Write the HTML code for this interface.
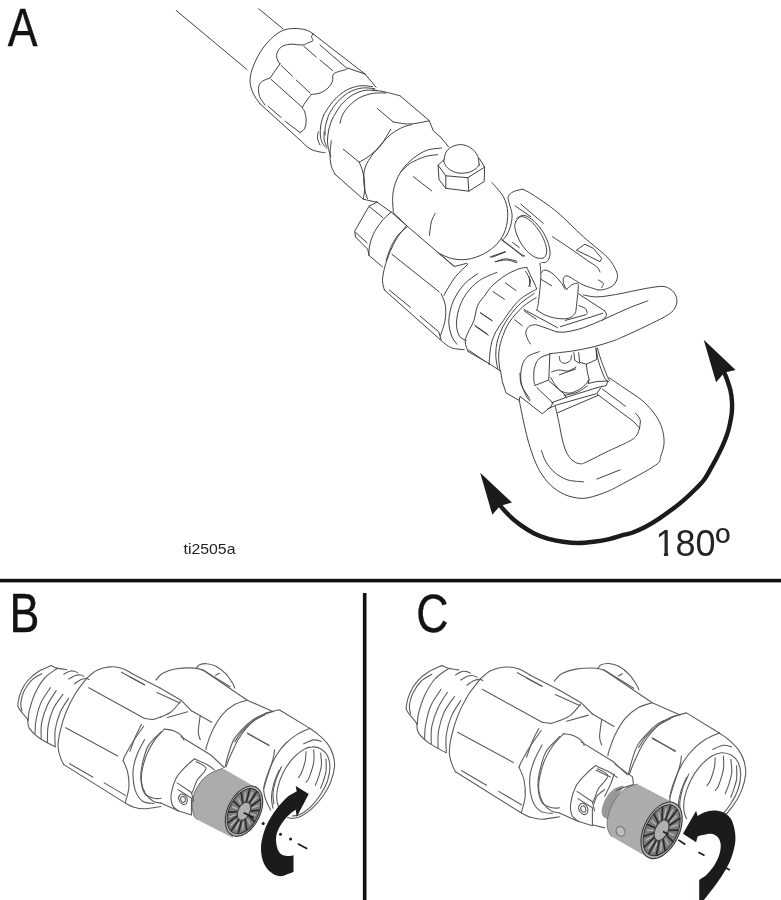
<!DOCTYPE html>
<html lang="en">
<head>
<meta charset="utf-8">
<title>Tip guard rotation</title>
<style>
html,body{margin:0;padding:0;background:#fff;}
body{width:781px;height:900px;overflow:hidden;font-family:"Liberation Sans",sans-serif;}
svg{display:block;}
</style>
</head>
<body>
<svg width="781" height="900" viewBox="0 0 781 900">
<rect width="781" height="900" fill="#fff"/>
<path d="M222.6 768.3 C220.7 769.1 214.4 771.2 210.9 773.2 C207.5 775.2 204.7 777.2 202 780.3 C199.3 783.5 196.5 787.9 194.8 792 C193.2 796 192.3 800.6 192.1 804.5 C192 808.4 193 812.7 193.9 815.3 C194.8 817.8 196.9 819 197.5 819.8 L232.5 837.7 L257.5 788.4 Z" fill="#acacac"/>
<path d="M623.8 786.3 C623.5 784.8 618.6 786.6 616.1 787.8 C613.7 789 611.1 791.2 609.1 793.6 C607.1 795.9 605.2 799.1 604 801.9 C602.7 804.7 601.9 807.9 601.7 810.2 C601.4 812.6 601.7 814.5 602.7 816 C603.7 817.5 606.1 818.5 607.8 819.2 C609.5 819.8 611.2 823.5 612.9 819.8 C614.6 816.1 616.2 802.4 618 796.8 C619.9 791.2 624.1 787.8 623.8 786.3Z" fill="#999"/>
<path d="M637.3 784 C635.5 784.6 630.2 785.9 627 787.8 C623.8 789.7 620.6 792.5 618 795.5 C615.5 798.5 613.4 802.1 611.6 805.7 C609.9 809.4 608.6 813.8 607.8 817.3 C607.1 820.7 607 823.7 607.2 826.2 C607.4 828.8 608.3 830.9 609.1 832.6 C609.8 834.3 611.2 835.8 611.6 836.5 L651.3 859.5 L676.9 804.4 Z" fill="#acacac"/>
<g fill="none" stroke="#383838" stroke-width="0.95" stroke-linecap="round" stroke-linejoin="round">
<path d="M176.2 10.5 L247 69.5"/>
<path d="M258.8 8.8 L283 28.8"/>
<path d="M325 152.5 C324.2 152.4 322.5 152.6 320 152 C317.5 151.4 313.3 150.8 310 148.8 C306.7 146.8 301.7 141.5 300 140"/>
<path d="M300 140 L260 103.8"/>
<path d="M260 103.8 C258.8 102 254.7 97 253 93 C251.3 89 249.9 84.7 250 80 C250.1 75.3 251.7 70.2 253.8 65 C255.8 59.8 259.2 53.5 262.5 48.8 C265.8 44 270.1 39.4 273.8 36.2 C277.4 33.1 280.7 31.3 284.2 30 C287.8 28.7 291.3 28.5 295 28.5 C298.7 28.5 303.2 29.1 306.2 30 C309.2 30.9 311.9 33.1 313 33.8"/>
<path d="M313 33.8 L365 74 L376 87.2"/>
<path d="M313 33.8 C312.8 34.3 311.5 35.9 311.5 37 C311.5 38.1 313.7 39.5 313 40.5 C312.3 41.5 309.2 42.2 307.5 43 C305.8 43.8 305.4 44.8 302.5 45 C299.6 45.2 293.5 43.9 290 44.2 C286.5 44.6 283.5 45.4 281.2 47 C279 48.6 277.4 51.6 276.8 53.8 C276.1 55.9 277 58.3 277.5 60 C278 61.7 279.6 63.1 280 63.8"/>
<path d="M280 63.8 L270 78"/>
<path d="M270 78 C268.8 78.5 264.4 79.9 262.5 81.2 C260.6 82.6 259.2 83.8 258.8 86.2 C258.2 88.8 258.5 93.1 259.5 96.2 C260.5 99.4 264.1 103.5 265 105"/>
<path d="M268 106.2 L281.2 117.5"/>
<path d="M285 121.2 L300 132.5"/>
<path d="M300 132.5 C300.8 131.9 303.5 130.8 304.5 128.8 C305.5 126.7 306.2 122.9 306.2 120 C306.2 117.1 305.1 113.3 304.5 111.2 C303.9 109.2 302.2 109.2 302.5 107.5 C302.8 105.8 304.8 103.4 306.2 101.2 C307.7 99.1 310.4 95.6 311.2 94.5"/>
<path d="M271.2 79.5 L302.5 107.5"/>
<path d="M281.2 65.5 L292.5 76.2"/>
<path d="M296.2 80 L310 93"/>
<path d="M311.2 94.5 C312.7 94.2 317.2 94.1 320 93 C322.8 91.9 325.9 90 328 88 C330.1 86 331.5 83.6 332.5 81.2 C333.5 78.9 331.5 75.7 333.8 73.8 C336 71.8 344.2 70.2 346.2 69.5"/>
<path d="M303.8 46.2 L316.2 57"/>
<path d="M320 60 L332.5 70.5"/>
<path d="M320 45 L347.5 68.8"/>
<path d="M372.5 86.7 C370.4 86.5 364.3 85.3 360 85.8 C355.7 86.4 350.8 87.8 346.7 90 C342.5 92.2 338.3 95.8 335 99.2 C331.7 102.5 328.6 107.2 326.7 110 C324.7 112.8 323.9 114.9 323.3 115.8"/>
<path d="M374.7 88.7 C372.6 88.6 366.3 87.4 362 88 C357.7 88.6 352.7 90.2 348.7 92.5 C344.6 94.8 340.8 98.3 337.7 101.7 C334.6 105 331.7 109.7 330 112.5 C328.3 115.3 327.9 117.6 327.5 118.7"/>
<path d="M376.7 90.8 C374.7 90.8 369 89.6 365 90.3 C361 91 356.4 92.7 352.5 95 C348.6 97.3 344.6 101 341.7 104.2 C338.8 107.4 336.7 111.5 335 114.2 C333.3 116.9 332.2 119.3 331.7 120.3"/>
<path d="M385.8 93 C383.8 93.1 377.6 92.6 373.3 93.3 C369 94.1 364 95.4 360 97.5 C356 99.6 352.1 102.9 349.2 105.8 C346.2 108.8 344 112.1 342.5 115 C341 117.9 340.4 121.9 340 123.3"/>
<path d="M323.3 115.8 C322.9 117.4 321.3 121.8 320.8 125 C320.3 128.2 320.1 131.9 320.3 135 C320.6 138.1 321.4 141.1 322.5 143.3 C323.6 145.6 326 147.5 326.7 148.3"/>
<path d="M318.3 131.7 C318.2 132.8 317.2 136.1 317.5 138.3 C317.8 140.6 319.6 143.9 320 145"/>
<path d="M324.2 131.7 C324.2 133.1 323.8 137.6 324.2 140 C324.6 142.4 326.2 145.3 326.7 146.3"/>
<path d="M327.5 118.7 C327.1 120 325.8 123.9 325.3 126.7 C324.9 129.4 325.1 133.6 325 135"/>
<path d="M331.7 120.3 C331.2 121.9 329.4 126.7 328.7 130 C328 133.3 327.6 136.9 327.5 140 C327.4 143.1 327.8 145.6 328.3 148.3 C328.9 151.1 330.4 155.3 330.8 156.7"/>
<path d="M372.5 89.7 C374.7 90.1 381.2 91.1 385.8 92.2 C390.4 93.2 397.6 95.2 400 95.8"/>
<path d="M400 95.8 L429.2 120.5 L433.3 130.8 L440.2 136.7"/>
<path d="M377.5 108.7 L393.3 122"/>
<path d="M393.3 122 C396.1 122.3 404 124.2 410 124 C416 123.8 426 121.4 429.2 120.8"/>
<path d="M411.7 124.7 C410.3 125.1 406.7 125.5 403.3 127 C400 128.5 395.3 130.9 391.7 133.7 C388.1 136.4 384.9 140.1 381.7 143.7 C378.4 147.3 374.6 151.6 372 155.3 C369.4 159 367.2 162.3 365.8 165.8 C364.4 169.4 363.9 172.8 363.7 176.7 C363.5 180.6 364 185.5 364.7 189.2 C365.3 192.8 367 197.1 367.5 198.7"/>
<path d="M390.8 129.2 C389.3 131.7 384.1 140.6 381.7 144.2 C379.2 147.7 377.2 149.3 376.3 150.3"/>
<path d="M343.3 149.2 L359.2 162.2"/>
<path d="M359.2 162.2 C360.7 161.3 365.4 158.8 368.3 156.7 C371.2 154.6 375.3 150.8 376.7 149.7"/>
<path d="M359.2 162.2 C359.6 163.3 361.2 166.5 362 169.2 C362.8 171.9 363.7 175 364.2 178.3 C364.6 181.7 364.8 185.7 364.7 189.2 C364.5 192.6 363.6 197.5 363.3 199.2"/>
<path d="M331.3 140.8 C331.1 142.9 330.1 149.3 330 153.3 C329.9 157.4 330.2 161.5 331 165 C331.8 168.5 334.3 172.6 335 174.2"/>
<path d="M335 174.2 L363.3 199.2 L374.2 201.7 L377 202"/>
<path d="M441.7 148 C439.2 148.4 431.4 148.6 426.7 150.3 C421.9 152.1 417.4 155.1 413.3 158.3 C409.2 161.6 405 165.8 402 170 C399 174.2 396.9 178.9 395.3 183.3 C393.8 187.8 393 191.9 392.7 196.7 C392.3 201.4 393.2 209.2 393.3 211.7"/>
<path d="M437.5 154.7 C435.4 155 429.5 155.2 425 156.7 C420.5 158.1 414.4 160.8 410.3 163.3 C406.3 165.9 402.4 170.6 400.8 172"/>
<path d="M413.3 176.7 L431.7 190.8"/>
<path d="M440.2 136.7 L448.7 146.9"/>
<path d="M491.9 182.5 C493.8 184.9 500.8 192 503.5 196.9 C506.1 201.9 507.4 206.9 507.7 212.3 C508 217.8 507.1 224.5 505.4 229.6 C503.7 234.7 501.2 239.1 497.7 243.1 C494.2 247.1 489.4 250.9 484.2 253.7 C479.1 256.4 472.4 258.6 466.9 259.4 C461.5 260.2 456 259.4 451.5 258.5 C447.1 257.5 441.9 254.5 440 253.7"/>
<path d="M392.9 212.3 L407.3 226.2"/>
<path d="M438.1 252.7 L454.4 266.5 L466.9 263.3"/>
<path d="M435.2 213.3 C434.6 214.7 432.3 218.2 431.3 221.9 C430.4 225.6 429.7 233.1 429.4 235.4"/>
<path d="M443.8 161.3 C444.2 159.9 444.5 155.1 445.8 152.7 C447.1 150.3 449 148.3 451.5 146.9 C454.1 145.6 457.9 144.5 461.2 144.6 C464.4 144.8 468 146.1 470.8 147.9 C473.5 149.7 476.1 152.7 477.5 155.6 C478.9 158.5 478.9 163.6 479.2 165.2"/>
<path d="M443.8 161.3 C444.5 162.5 445.4 166.2 447.7 168.1 C449.9 170 453.8 172.2 457.3 172.9 C460.8 173.6 465.6 173.1 468.8 172.3 C472.1 171.5 474.8 169.4 476.5 168.1 C478.3 166.7 478.9 164.9 479.4 164.2"/>
<path d="M444.2 159.4 L438.1 165.2 L439 179.6 L445.8 188.3 L468.8 191.2 L484.2 181.5 L484.6 167.1 L479.4 158.5"/>
<path d="M438.1 165.2 L445.8 175.8 L467.9 177.7 L484.6 167.1"/>
<path d="M445.8 175.8 L445.8 188.3"/>
<path d="M467.9 177.7 L468.8 191.2"/>
<path d="M407.3 226.7 C405.7 228.2 400.4 232 397.7 235.4 C395 238.8 392.9 242.8 391 246.9 C389 251.1 387 258.1 386.2 260.4"/>
<path d="M376.9 202.1 L369 206.3 L354.6 231.3 L355.6 237.1 L367.7 249.2 L369 255.4 L382.5 266.9"/>
<path d="M376.9 202.1 L391.2 212.1 L406.5 225.6 L454.4 266.5"/>
<path d="M369 206.3 L382.5 217.3"/>
<path d="M355.6 232.3 L367.1 242.9"/>
<path d="M391.2 212.1 C389.9 213.3 386.2 216 383.5 219.2 C380.7 222.4 377.1 227.2 374.8 231.3 C372.6 235.4 371 239.8 370 243.8 C369 247.9 369 253.5 368.8 255.4"/>
<path d="M406.5 225.6 C404.9 227.7 399.6 233.8 396.9 238.1 C394.2 242.4 392.2 246.7 390.2 251.5 C388.2 256.3 386.1 262.1 384.8 266.9 C383.5 271.7 382.6 276.5 382.5 280.4 C382.4 284.2 384.1 288.4 384.4 290"/>
<path d="M384.4 290 L439.2 338.7"/>
<path d="M439.2 338.7 C440.2 339.5 442.8 342.2 445 343.8 C447.2 345.4 449.5 347.3 452.7 348.3 C455.9 349.2 462.3 349.4 464.2 349.6"/>
<path d="M392.1 254.4 L439.2 291.9"/>
<path d="M389.2 290 L410.4 307.3"/>
<path d="M420 316 L438.8 331.9 L441.2 340"/>
<path d="M441.2 293.8 C441.9 295.8 444.7 300.9 445.4 305.4 C446 309.9 445.9 315.6 445 320.8 C444.1 325.9 441 333.6 440.2 336.2"/>
<path d="M468.1 264 C466 266.1 459.1 272.2 455.6 276.5 C452.1 280.9 448.8 286.9 446.9 290 C445 293.1 444.5 294.5 444 295.4"/>
<path d="M477.7 273.7 C475.4 275.4 468.3 279.6 464.2 284.2 C460.1 288.9 455.6 295.4 453.1 301.5 C450.5 307.6 449.1 315 448.8 320.8 C448.6 326.5 450.4 332.2 451.7 336.2 C453.1 340.1 456.1 342.9 456.9 344.2"/>
<path d="M496.9 272.3 C494 273.7 484.7 276.8 479.6 280.4 C474.5 284 469.6 289 466.2 293.8 C462.7 298.7 460.4 304.1 458.8 309.2 C457.2 314.4 456.4 320.1 456.5 324.6 C456.6 329.1 457.8 333.5 459.4 336.2 C461 338.8 465 339.7 466.2 340.4"/>
<path d="M485.4 294.8 C484.1 296.6 479.6 301.1 477.7 305.4 C475.8 309.7 475.4 316.3 473.8 320.8 C472.2 325.3 469.5 328.8 468.1 332.3 C466.6 335.8 465.2 338.7 465.2 341.9 C465.2 345.1 467.6 349.9 468.1 351.5"/>
<path d="M468.1 351.5 L488.3 363.1"/>
<path d="M480.6 313.1 L492.1 320.8"/>
<path d="M475.8 326.5 L488.3 335.2"/>
<path d="M488.3 363.1 L499.6 370.4"/>
<path d="M485.4 294.8 C486.2 293.6 488.3 290 490.4 287.7 C492.4 285.4 494.9 283.2 497.7 281 C500.5 278.7 503.8 276.2 507.3 274.2 C510.8 272.2 515.6 270 518.8 268.8 C522.1 267.7 525.6 267.7 526.9 267.5"/>
<path d="M526.9 267.5 C527.5 268.8 529.2 272.6 530.4 275.2 C531.6 277.8 533.2 280.6 534.2 282.9 C535.3 285.1 536.2 287.7 536.5 288.7"/>
<path d="M536.5 289.2 C534.2 290.6 526.6 294.4 522.7 297.3 C518.8 300.3 516.3 303.1 513.1 306.9 C509.9 310.8 506.3 316.2 503.5 320.4 C500.6 324.6 497.9 327.8 495.8 331.9 C493.7 336.1 492.1 339.9 491 345.4 C489.8 350.8 489.4 361.4 489 364.6"/>
<path d="M534.2 293.5 C531.7 295.4 523.7 300.2 518.8 305 C514 309.8 508.9 316.5 505.4 322.3 C501.9 328.1 499.3 334.2 497.7 339.6 C496.1 345.1 495.8 350.1 495.8 355 C495.8 359.9 497.4 366.5 497.7 368.8"/>
<path d="M536.2 297.7 C533.9 299.2 527.2 302.8 522.7 306.9 C518.2 311 512.8 316.9 509.2 322.3 C505.7 327.8 503.3 334.2 501.5 339.6 C499.8 345.1 498.9 349.8 498.7 355 C498.4 360.2 499.8 368.1 500 370.8"/>
<path d="M505.4 282.9 L516 290.6"/>
<path d="M492.9 291.5 L504.4 299.2"/>
<path d="M480.4 312.7 L491.9 320.4"/>
<path d="M474.6 325.2 L487.1 333.8"/>
<path d="M468.8 350.2 L484.2 360.8"/>
<path d="M525.6 271.3 C526.4 272.9 529.8 277.9 530.4 280.4 C530.9 282.9 529.1 285.2 528.8 286.2"/>
<path d="M495.8 261.7 C497.4 261.2 501.9 258.9 505.4 258.8 C508.9 258.8 515 260.8 516.9 261.2"/>
<path d="M491.9 257.3 L505.4 252.1"/>
<path d="M501.9 239.6 L520.8 254 L524.6 256"/>
<path d="M502.5 240 C503.2 239.2 505.3 237.5 506.7 235 C508.1 232.5 509.9 228.5 510.8 225 C511.7 221.5 512.3 217.8 512 214.2 C511.7 210.6 509.8 206.2 509.2 203.3 C508.6 200.4 507.6 198.6 508.3 196.7 C509 194.7 511 192.9 513.3 191.7 C515.7 190.4 521 189.6 522.5 189.2"/>
<path d="M522.5 189.2 C524.3 190.1 527.6 191.2 533.3 195 C539 198.8 548.3 204.7 556.7 211.7 C565 218.6 575 229.2 583.3 236.7 C591.7 244.2 601.4 251.4 606.7 256.7 C611.9 261.9 613.2 265 615 268.3 C616.8 271.7 617.7 273.9 617.5 276.7 C617.3 279.4 615.7 282.9 613.7 285 C611.6 287.1 607.9 288.3 605.3 289.2 C602.8 290 599.5 289.9 598.3 290"/>
<path d="M598.3 290 C595.8 289.2 587.5 286.8 583.3 285 C579.2 283.2 576.1 280.7 573.3 279.2 C570.6 277.6 568.7 276 567 275.8 C565.3 275.7 563.8 276.8 563.3 278.3 C562.9 279.9 563.6 283.2 564.2 285 C564.7 286.8 566.2 288.5 566.7 289.2"/>
<path d="M520.8 204.2 L543.3 223.3"/>
<path d="M515 205.8 L530.8 216.7"/>
<path d="M516.7 218.3 C517.8 217.8 520.8 215.2 523.3 215.3 C525.8 215.5 528.6 216.7 531.7 219.2 C534.7 221.6 538.9 226 541.7 230 C544.4 234 546.9 239.2 548.3 243.3 C549.7 247.5 550.3 251.9 550 255 C549.7 258.1 548.1 260.4 546.7 261.7 C545.3 262.9 542.5 262.4 541.7 262.5"/>
<path d="M515.8 221.7 C514.9 223.6 514.4 225.3 515 228.3 C515.6 231.4 517.2 236.2 519.2 240 C521.1 243.8 523.9 247.9 526.7 250.8 C529.4 253.7 532.9 256.4 535.8 257.5 C538.8 258.6 542.4 258.8 544.2 257.5 C546 256.2 546.8 253.2 546.7 250 C546.5 246.8 545 242.1 543.3 238.3 C541.7 234.6 539.2 230.7 536.7 227.5 C534.2 224.3 531 221 528.3 219.2 C525.7 217.4 522.9 216.2 520.8 216.7 C518.8 217.1 516.8 219.7 515.8 221.7Z"/>
<path d="M552.5 236.7 C555.4 238.6 564.3 244.4 570 248.3 C575.7 252.2 582.2 256.9 586.7 260 C591.1 263.1 594.4 264.7 596.7 266.7 C598.9 268.7 599.4 271.1 600 272"/>
<path d="M576.7 250 L585 244.2 L593.3 248.3 L601.7 258.3 L600 261.7 L590 256.7Z"/>
<path d="M598.3 280 C599.2 280.6 602.8 282.1 603.3 283.3 C603.9 284.6 601.9 286.8 601.7 287.5"/>
<path d="M501.7 240 L511.7 247.5 L523.3 256.7"/>
<path d="M512.5 242.5 L519.2 247.5"/>
<path d="M490 257 L505 251.7"/>
<path d="M495 261.7 C496.9 261.4 503.1 259.8 506.7 260 C510.3 260.2 515 262.2 516.7 262.7"/>
<path d="M540 263.3 C540.1 265.6 541.1 270 540.8 276.7 C540.6 283.3 539 297.8 538.3 303.3 C537.6 308.9 536.9 308.9 536.7 310"/>
<path d="M536.7 310 C538.1 310.8 541.7 313.6 545 315 C548.3 316.4 552.8 317.8 556.7 318.3 C560.6 318.9 565.3 319.2 568.3 318.3 C571.4 317.5 573.6 315.8 575 313.3 C576.4 310.8 576.1 307.8 576.7 303.3 C577.2 298.9 578.3 290 578.3 286.7 C578.3 283.3 577.8 283.6 576.7 283.3 C575.6 283.1 573.3 284 571.7 285 C570 286 567.5 288.5 566.7 289.2"/>
<path d="M540.8 273.3 C541.5 272.8 542.9 269.9 545 270 C547.1 270.1 550.6 271.9 553.3 274.2 C556.1 276.4 559.7 280.8 561.7 283.3 C563.6 285.8 564.4 288.2 565 289.2"/>
<path d="M540.8 279.2 L551.7 285.8"/>
<path d="M529.2 276.7 L530 286.7"/>
<path d="M523.8 309.4 L557.5 327.7"/>
<path d="M578.7 294 L604.6 310.8"/>
<path d="M604.6 310.8 C604.9 311.5 606.9 313.6 606.5 315.2 C606.2 316.8 603.3 319.5 602.7 320.4"/>
<path d="M560.4 326.7 L602.7 313.3"/>
<path d="M578.7 305.6 C579.8 306.1 583.9 307.2 585.4 308.5 C586.8 309.7 587 312.5 587.3 313.3"/>
<path d="M565.2 320.4 L586.3 314.6"/>
<path d="M583.5 295 C585.7 295.3 591.6 297 596.9 296.9 C602.2 296.9 609.7 295.5 615.4 294.6 C621 293.7 625.6 292.5 630.7 291.5 C635.9 290.5 641 289.3 646.1 288.4 C651.2 287.6 657.6 286.4 661.5 286.4 C665.3 286.4 666.8 287.1 669.1 288.4 C671.5 289.8 674 292.1 675.3 294.6 C676.6 297 677.2 300.3 676.8 303 C676.4 305.7 675 308.4 673 310.7 C670.9 313 669 314.3 664.5 316.9 C660.1 319.4 653 322.7 646.1 326.1 C639.2 329.4 628.7 334.3 623 336.8 C617.4 339.3 617.3 339.5 612.3 341.2 C607.3 342.8 599.5 345.3 593.1 346.9 C586.7 348.5 579.6 349.8 573.8 350.8 C568.1 351.7 562.5 352.2 558.5 352.7 C554.5 353.2 551.2 353.5 549.8 353.7"/>
<path d="M647.9 300.8 C644.5 302.1 634.6 305.6 627.7 308.5 C620.8 311.3 613.9 314.9 606.5 318.1 C599.2 321.3 590.2 325.4 583.5 327.7 C576.7 330 570.6 331.2 566.2 331.9 C561.7 332.6 558.1 331.9 556.5 331.9"/>
<path d="M556.5 331.9 C554.6 331.2 548.5 328.9 545 327.7 C541.5 326.5 538.1 325 535.4 324.8 C532.7 324.6 530.3 325.4 528.7 326.7 C527.1 328 525.9 330.4 525.8 332.5 C525.6 334.6 526.9 337.3 527.7 339.2 C528.5 341.2 530.1 343.2 530.6 344"/>
<path d="M539.2 351.7 C537.3 352.5 530.6 354.1 527.7 356.5 C524.8 358.9 523 362 521.9 366.2 C520.8 370.3 520.3 376.7 521 381.5 C521.6 386.3 524.3 391.8 525.8 395 C527.2 398.2 529 399.8 529.6 400.8"/>
<path d="M549.8 354 C548 354.8 541.8 356.1 539.2 358.5 C536.7 360.8 535.3 364.6 534.4 368.1 C533.5 371.6 533.8 376.7 533.8 379.6 C533.9 382.5 534.8 384.4 535 385.4"/>
<path d="M549.8 354.6 L548.8 380 L535 385.4"/>
<path d="M548.8 380.6 L565.2 395 L566.2 397.9"/>
<path d="M551.7 402.7 L566.2 397.3 L596.9 387.7"/>
<path d="M547.9 408.8 L556.5 405 L596.9 393.5 L600.8 387.7"/>
<path d="M559.4 356.5 C559.6 357.3 559.4 360.2 560.4 361.3 C561.3 362.5 563.5 363.4 565.2 363.3 C566.9 363.1 569.3 361.7 570.4 360.4 C571.4 359.1 571.3 356.4 571.5 355.6"/>
<path d="M551.7 371.9 C552.9 371.6 555.7 370.2 558.5 370 C561.2 369.8 565.2 371.4 568.1 371 C571 370.5 574.5 367.8 575.8 367.1"/>
<path d="M559.4 374.8 L575.8 369"/>
<path d="M550.8 377.7 C551.6 379 553.8 383.1 555.6 385.4 C557.3 387.6 558.9 389.9 561.3 391.2 C563.8 392.4 567 393.4 570 393.1 C573 392.8 576.9 390.8 579.6 389.2 C582.3 387.6 584.9 385.1 586.3 383.5 C587.8 381.9 588.1 380.3 588.5 379.6"/>
<path d="M564.2 395.4 C566.5 394.8 573.8 393.7 577.7 392.1 C581.5 390.5 585.7 386.8 587.3 385.8"/>
<path d="M578.7 352.7 L579.6 362.3 L586.3 364.2 L587.3 371.9 L589.2 379.6 L588.3 383.5"/>
<path d="M573.8 352.7 L574.8 360.4 L579.6 363.3"/>
<path d="M586.3 364.2 L596.9 359.4 L596 348.8"/>
<path d="M596 347.9 C596.4 350.3 597.4 357.3 598.8 362.3 C600.3 367.3 603 374.5 604.6 377.7 C606.2 380.9 607.8 380.9 608.5 381.5"/>
<path d="M597.3 347.9 C597.9 350 599.5 355.6 601.2 360.4 C602.9 365.2 606.1 373.4 607.5 376.7 C608.9 380.1 609.3 379.9 609.6 380.6"/>
<path d="M588.3 383.5 L596.9 381.5 L607.5 381 L606.5 385.4 L596.9 387.7"/>
<path d="M519.2 400 C519.8 403.2 521.6 412.6 523 419.2 C524.5 425.7 526 433 527.7 439.1 C529.3 445.3 531 450.7 533 456 C535.1 461.4 537 466.5 540 471.4 C542.9 476.3 546.6 481.4 550.7 485.2 C554.8 489.1 559.7 492.3 564.5 494.5 C569.4 496.6 575.3 497.9 579.9 498.3 C584.5 498.7 587.6 497.9 592.2 496.8 C596.8 495.6 602.9 493.3 607.6 491.4 C612.2 489.5 612 489.6 620 485.2 C628 480.9 648.8 470.1 655.5 465.2 C662.3 460.4 659.3 459.7 660.7 456.3 C662.1 452.9 663.4 448.6 663.9 444.8 C664.3 440.9 664 437.1 663.2 433.2 C662.5 429.4 661.3 425.5 659.4 421.7 C657.5 417.9 654.7 413.8 651.7 410.2 C648.7 406.6 645.9 403.6 641.5 399.9 C637 396.3 630.3 392.1 624.8 388.4 C619.4 384.7 611.5 379.3 608.8 377.5"/>
<path d="M557.5 412.8 L598.1 395.4"/>
<path d="M597.3 394.2 L618.4 410.2 L633.8 421.7 L639.5 428.1"/>
<path d="M639.5 428.1 C639 429.4 638.2 433.5 636.3 435.8 C634.5 438 633.8 438.8 628.7 441.5 C623.5 444.3 612.7 449 605.6 452.4 C598.5 455.9 590.3 460.3 586 462.2 C581.8 464.1 582 463.9 579.9 463.7 C577.9 463.6 575.8 463 573.8 461.4 C571.7 459.9 569.4 457.7 567.6 454.5 C565.8 451.3 564.4 447.3 563 442.2 C561.6 437.1 560.4 429.8 559.2 423.8 C557.9 417.8 556 409.1 555.3 406.1"/>
<path d="M541.5 450.7 C542.3 452.6 543.8 458.5 546.1 462.2 C548.4 465.9 551.7 470 555.3 473 C558.9 475.9 562.9 478.4 567.6 479.9 C572.3 481.4 581.1 481.5 583.7 481.9"/>
<path d="M596.8 479.1 L620 469.9"/>
<path d="M602.4 389.1 L625.5 406.3"/>
<path d="M635.7 413.4 C636.4 414.4 639.5 417.3 640.2 419.8 C640.8 422.2 639.6 426.7 639.5 428.1"/>
<path d="M503.1 383.8 L506.1 393 L519.2 400.4 L520 396.4 L542.3 413.8 L550.7 406.9 L553 403"/>
<path d="M536.9 387.7 L553 403"/>
<path d="M520 373.1 C520.2 375.1 519.8 381 521.5 385.4 C523.2 389.7 528.6 396.9 530 399.2"/>
<path d="M500.5 370.4 C500.8 372.3 502 379.7 502.4 381.9 C502.8 384.2 502.9 383.4 503 383.7"/>
<path d="M524.2 310.9 L536.3 319.2"/>
<path d="M514.6 319.8 L522.3 325.6"/>
<path d="M347.5 68 L365.5 74.2"/>
</g>
<g fill="none" stroke="#5c5c5c" stroke-width="1.1" stroke-linecap="round" stroke-linejoin="round">
<path d="M51.3 665.6 C49.3 666.5 42.7 668.9 38.8 671.3 C35 673.8 31.2 676.8 28.3 680 C25.4 683.2 23.2 686.9 21.5 690.6 C19.8 694.3 18.6 699.2 18.1 702.1 C17.6 705 17.1 705 18.7 707.9 C20.3 710.8 26.2 717.5 27.7 719.4"/>
<path d="M442.1 665.6 C439.9 666.6 432.9 669.2 428.7 671.8 C424.6 674.4 420.5 677.6 417.4 681.1 C414.3 684.5 412 688.4 410.2 692.4 C408.4 696.3 407 701.7 406.5 704.8 C406 707.9 405.4 707.9 407.1 711 C408.8 714 415.2 721.3 416.8 723.3"/>
<path d="M41.7 673.7 C40 674.8 34.5 677.4 31.5 680.4 C28.6 683.4 25.6 687.8 23.8 691.5 C22.1 695.3 21.1 699.9 20.8 703.1 C20.4 706.3 21.7 709.5 21.9 710.8"/>
<path d="M431.8 674.3 C430 675.5 424.1 678.3 420.9 681.5 C417.7 684.7 414.6 689.4 412.7 693.4 C410.7 697.5 409.7 702.4 409.4 705.8 C409 709.2 410.4 712.7 410.6 714"/>
<path d="M51.3 665.6 C52.3 666 54.6 667.4 57.1 668.1 C59.7 668.8 65.1 669.4 66.7 669.6"/>
<path d="M442.1 665.6 C443.2 666 445.6 667.6 448.3 668.3 C451.1 669 456.9 669.7 458.6 669.9"/>
<path d="M27.7 719.4 C27.9 720.9 27.4 725 29.2 728.1 C31.1 731.1 34.5 734.6 38.8 737.7 C43.2 740.8 52.5 745.4 55.2 746.9"/>
<path d="M416.8 723.3 C417.1 724.9 416.4 729.3 418.4 732.6 C420.4 735.9 424.1 739.5 428.7 742.9 C433.4 746.3 443.3 751.2 446.3 752.8"/>
<path d="M57.1 668.5 C55 670.1 48.3 673.9 44.6 678.1 C40.9 682.2 37.6 688 35 693.5 C32.4 698.9 30.4 706.3 29.2 710.8 C28.1 715.3 28.4 718.8 28.3 720.4"/>
<path d="M448.3 668.7 C446.1 670.4 438.9 674.5 434.9 679 C431 683.5 427.4 689.6 424.6 695.5 C421.9 701.3 419.6 709.2 418.4 714 C417.2 718.9 417.6 722.6 417.4 724.4"/>
<path d="M50.4 687.7 C48.8 690.3 43.2 697.6 40.8 703.1 C38.4 708.5 36.9 715.3 36 720.4 C35 725.5 35.2 731.6 35 733.8"/>
<path d="M441.1 689.3 C439.4 692.1 433.4 700 430.8 705.8 C428.2 711.6 426.7 718.9 425.7 724.4 C424.6 729.8 424.8 736.4 424.6 738.8"/>
<path d="M56.2 690.6 C54.7 693 49.9 699.7 47.5 705 C45.1 710.3 42.8 716.7 41.7 722.3 C40.7 727.9 41.2 735.9 41.2 738.7"/>
<path d="M447.3 692.4 C445.8 695 440.6 702.2 438 707.9 C435.4 713.5 433 720.4 431.8 726.4 C430.7 732.4 431.3 741 431.2 743.9"/>
<path d="M62.9 694.4 C61.3 696.8 55.7 703.6 53.3 708.8 C50.8 714.1 49 720.5 48.1 726.2 C47.1 731.8 47.6 739.8 47.5 742.5"/>
<path d="M454.5 696.5 C452.8 699.1 446.9 706.3 444.2 712 C441.6 717.7 439.7 724.5 438.6 730.5 C437.6 736.5 438.1 745.1 438 748.1"/>
<path d="M68.7 698.3 C67.2 700.7 62.2 707.4 60 712.7 C57.8 718 56 724.4 55.2 730 C54.4 735.6 55.2 743.6 55.2 746.3"/>
<path d="M460.7 700.6 C459.2 703.2 453.8 710.4 451.4 716.1 C449 721.8 447.1 728.6 446.3 734.7 C445.4 740.7 446.3 749.3 446.3 752.2"/>
<path d="M63.8 674.2 C64.8 673.7 67.9 671.7 69.6 671.2 C71.4 670.6 73.1 670.9 74.4 671.2 C75.8 671.4 77.1 672.4 77.7 672.7"/>
<path d="M455.5 674.9 C456.6 674.3 459.8 672.1 461.7 671.6 C463.6 671 465.4 671.3 466.9 671.6 C468.3 671.9 469.8 673 470.4 673.2"/>
<path d="M68.7 679 C69.8 678.4 73.4 676.1 75.4 675.4 C77.4 674.7 79.3 674.8 80.8 675 C82.2 675.2 83.5 676.3 84 676.5"/>
<path d="M460.7 680 C461.9 679.4 465.7 676.8 467.9 676.1 C470.1 675.4 472.1 675.5 473.7 675.7 C475.2 675.9 476.6 677.1 477.2 677.3"/>
<path d="M74.4 683.8 C75.5 683.1 79.1 680.5 81.2 679.6 C83.2 678.7 85.2 678.5 86.5 678.5 C87.9 678.5 88.8 679.4 89.2 679.6"/>
<path d="M466.9 685.2 C468.1 684.4 471.9 681.6 474.1 680.6 C476.3 679.7 478.4 679.4 479.9 679.4 C481.3 679.4 482.3 680.4 482.8 680.6"/>
<path d="M86.9 678.1 C85 680.6 78.9 687.7 75.4 693.5 C71.9 699.2 68.3 706.3 65.8 712.7 C63.2 719.1 61.3 726.2 60 731.9 C58.7 737.7 57.9 742.8 58.1 747.3 C58.2 751.8 60 756 61 758.8 C61.9 761.7 63.4 763.7 63.8 764.6"/>
<path d="M480.3 679 C478.2 681.7 471.7 689.3 467.9 695.5 C464.1 701.7 460.4 709.2 457.6 716.1 C454.9 723 452.8 730.5 451.4 736.7 C450 742.9 449.2 748.4 449.4 753.2 C449.5 758 451.4 762.5 452.5 765.6 C453.5 768.7 455 770.7 455.5 771.8"/>
<path d="M86.9 678.1 C88.5 676.8 92.7 672.2 96.5 670.4 C100.4 668.5 105.7 667.2 110 666.9 C114.3 666.6 118.7 667.2 122.5 668.5 C126.3 669.7 131.3 673.3 133.1 674.2"/>
<path d="M480.3 679 C482 677.6 486.5 672.7 490.6 670.8 C494.7 668.8 500.4 667.4 505 667 C509.7 666.7 514.3 667.4 518.4 668.7 C522.5 670 527.9 673.8 529.8 674.9"/>
<path d="M133.1 674.2 L160 688.1"/>
<path d="M529.8 674.9 L558.6 689.7"/>
<path d="M121.5 672.3 L144.6 684.8"/>
<path d="M517.4 672.8 L542.1 686.2"/>
<path d="M88.8 687.7 L144.6 718.5"/>
<path d="M482.3 689.3 L542.1 722.3"/>
<path d="M144.6 718.5 C146.1 718.6 150.5 719.7 153.3 719.4 C156 719.2 159.7 717.3 161 716.9"/>
<path d="M542.1 722.3 C543.7 722.5 548.5 723.6 551.4 723.3 C554.3 723 558.3 721.1 559.7 720.6"/>
<path d="M65.8 727.7 L117.7 756"/>
<path d="M457.6 732.2 L513.3 762.5"/>
<path d="M69.6 763.7 L92.7 777.1"/>
<path d="M461.7 770.7 L486.5 785.2"/>
<path d="M104.2 782.9 L125.4 795.4"/>
<path d="M498.8 791.4 L521.5 804.8"/>
<path d="M63.8 764.6 L125.4 803.1"/>
<path d="M455.5 771.8 L521.5 813"/>
<path d="M125.4 803.1 C126.7 803.7 129.9 806 133.1 806.9 C136.3 807.9 140 808.9 144.6 808.8 C149.3 808.8 158.2 806.9 161 806.5"/>
<path d="M521.5 813 C522.9 813.7 526.3 816.1 529.8 817.1 C533.2 818.2 537.1 819.3 542.1 819.2 C547.1 819.1 556.7 817.1 559.7 816.7"/>
<path d="M143.7 726.2 C141.9 728.7 136.1 736.7 133.1 741.5 C130 746.3 127.1 751.9 125.4 755 C123.7 758.1 123.5 759.5 123.1 760.4"/>
<path d="M541.1 730.5 C539.2 733.3 533 741.9 529.8 747 C526.5 752.2 523.3 758.1 521.5 761.5 C519.7 764.8 519.5 766.3 519 767.2"/>
<path d="M123.1 760.4 C123.8 762.4 126.7 767.8 127.7 772.3 C128.7 776.9 129.2 782.7 128.8 787.7 C128.5 792.7 126 799.7 125.4 802.1"/>
<path d="M519 767.2 C519.9 769.4 523 775.1 524 780 C525 784.9 525.6 791.2 525.2 796.5 C524.8 801.8 522.1 809.4 521.5 812"/>
<path d="M144.6 739.6 C143.3 742.2 138.8 749.9 136.9 755 C135 760.1 133.4 764.6 133.1 770.4 C132.8 776.2 133.4 784.5 135 789.6 C136.6 794.7 139.5 798.8 142.7 801.2 C145.9 803.5 152.3 803.1 154.2 803.5"/>
<path d="M542.1 745 C540.8 747.7 535.9 756 533.9 761.5 C531.8 767 530.1 771.8 529.8 778 C529.4 784.1 530.1 793.1 531.8 798.6 C533.5 804.1 536.6 808.5 540.1 810.9 C543.5 813.4 550.4 813 552.4 813.4"/>
<path d="M161 731.9 C158.9 734.2 151.5 740.3 148.5 745.4 C145.4 750.5 144 757.2 142.7 762.7 C141.4 768.1 140.4 772.9 140.8 778.1 C141.1 783.2 142.4 790.1 144.6 793.5 C146.9 796.8 151.5 797.5 154.2 798.3 C157 799.1 159.8 798.3 161 798.3"/>
<path d="M559.7 736.7 C557.4 739.1 549.5 745.7 546.3 751.2 C543 756.6 541.4 763.9 540.1 769.7 C538.7 775.5 537.7 780.7 538 786.2 C538.3 791.7 539.7 799.1 542.1 802.7 C544.5 806.3 549.5 807 552.4 807.8 C555.4 808.7 558.4 807.8 559.7 807.8"/>
<path d="M160 688.1 L181 700.2 L191.5 710.8"/>
<path d="M558.6 689.7 L581.1 702.7 L592.4 714"/>
<path d="M130 677.1 L144.4 684.8"/>
<path d="M526.5 678 L541.9 686.2"/>
<path d="M156.9 692.5 L180 703.1"/>
<path d="M555.3 694.5 L580.1 705.8"/>
<path d="M161 716.9 C162.7 716.1 168.1 714.3 171.3 711.7 C174.6 709.2 178.9 703.2 180.4 701.5"/>
<path d="M559.7 720.6 C561.5 719.7 567.3 717.8 570.8 715.1 C574.3 712.3 578.9 706 580.5 704.1"/>
<path d="M156 680 C157.1 678.9 159.3 675.1 162.7 673.3 C166.1 671.4 170.7 669.7 176.2 668.8 C181.6 668 190.7 667.8 195.4 668.1 C200 668.4 202.6 670.3 204 670.8"/>
<path d="M554.3 681.1 C555.5 679.9 557.9 675.8 561.5 673.8 C565.1 671.9 570.1 670 575.9 669.1 C581.8 668.2 591.6 667.9 596.6 668.3 C601.5 668.6 604.3 670.7 605.8 671.2"/>
<path d="M204 670.8 L247.3 700.2 L273.3 711.7"/>
<path d="M605.8 671.2 L652.2 702.7 L680 715.1"/>
<path d="M196.3 668.5 C196.8 667.9 197.5 665.8 199.2 665 C201 664.2 204 663.4 206.9 663.7 C209.8 663.9 213.3 664.8 216.5 666.5 C219.7 668.3 223.4 671.3 226.2 674.2 C228.9 677.1 231.4 681.5 232.9 683.8 C234.3 686.2 234.5 687.4 234.8 688.1"/>
<path d="M597.6 668.7 C598.1 668.1 598.8 665.8 600.7 665 C602.6 664.1 605.8 663.3 608.9 663.5 C612 663.8 615.8 664.7 619.2 666.6 C622.7 668.5 626.6 671.8 629.5 674.9 C632.5 678 635.2 682.7 636.8 685.2 C638.3 687.7 638.5 689 638.8 689.7"/>
<path d="M202.1 669.4 L230 686.7"/>
<path d="M603.8 669.7 L633.7 688.3"/>
<path d="M215.6 675.2 L219.4 673.3"/>
<path d="M618.2 675.9 L622.3 673.8"/>
<path d="M247.3 700.2 C245.1 701 238 702.6 233.8 705 C229.7 707.4 225.8 710.4 222.3 714.6 C218.8 718.8 215.3 724.9 212.7 730 C210.1 735.1 208 742.1 206.9 745.4 C205.8 748.7 206.1 748.9 206 749.6"/>
<path d="M652.2 702.7 C649.8 703.6 642.2 705.3 637.8 707.9 C633.3 710.4 629.2 713.7 625.4 718.2 C621.6 722.6 617.9 729.2 615.1 734.7 C612.4 740.2 610.1 747.6 608.9 751.2 C607.7 754.7 608.1 754.9 607.9 755.7"/>
<path d="M273.3 711.2 C270.2 712.4 260 715.6 255 718.5 C250 721.3 247 724.6 243.5 728.1 C239.9 731.6 236.4 735.1 233.8 739.6 C231.3 744.1 229.5 750.4 228.1 755 C226.6 759.6 225.7 764.9 225.2 766.9"/>
<path d="M680 714.5 C676.8 715.8 665.8 719.3 660.5 722.3 C655.1 725.3 651.9 728.8 648.1 732.6 C644.3 736.4 640.5 740.2 637.8 745 C635 749.8 633.1 756.6 631.6 761.5 C630.1 766.3 629 772.1 628.5 774.2"/>
<path d="M264.6 715 C262.7 716.1 256.9 718.5 253.1 721.3 C249.2 724.2 244.6 728.5 241.5 731.9 C238.5 735.4 235.9 740.3 234.8 741.9"/>
<path d="M670.8 718.6 C668.7 719.7 662.5 722.4 658.4 725.4 C654.3 728.4 649.3 733 646 736.7 C642.8 740.4 640 745.7 638.8 747.4"/>
<path d="M167.5 717.5 L187.7 711.7"/>
<path d="M566.7 721.3 L588.3 715.1"/>
<path d="M191.5 710.8 L211.7 722.3"/>
<path d="M592.4 714 L614.1 726.4"/>
<path d="M200.2 715.6 C199.9 718.3 198.3 727.9 198.3 731.9 C198.3 735.9 199.9 738.3 200.2 739.6"/>
<path d="M601.7 719.2 C601.4 722.1 599.6 732.4 599.6 736.7 C599.6 741 601.4 743.6 601.7 745"/>
<path d="M181 736.7 L210.8 755 L224.2 767.5"/>
<path d="M581.1 741.9 L613 761.5 L627.5 774.9"/>
<path d="M164.6 729 C163 730.8 157.9 735.6 155 739.6 C152.1 743.6 149.4 748.3 147.3 753.1 C145.2 757.9 143.5 763.7 142.5 768.5 C141.5 773.3 141.1 777.8 141.5 781.9 C142 786.1 143.5 790.3 145.4 793.5 C147.3 796.7 150.5 799.6 153.1 801.2 C155.6 802.8 159.5 802.8 160.8 803.1"/>
<path d="M563.6 733.6 C561.8 735.5 556.4 740.7 553.3 745 C550.2 749.3 547.2 754.2 545 759.4 C542.8 764.6 540.9 770.7 539.9 775.9 C538.8 781 538.3 785.9 538.8 790.3 C539.3 794.8 540.9 799.3 543 802.7 C545 806.1 548.4 809.2 551.2 810.9 C553.9 812.7 558.1 812.7 559.4 813"/>
<path d="M164.6 729 C166.2 729.4 171.3 729.8 174.2 731 C177.1 732.1 180.3 734.6 181.9 736.2 C183.5 737.7 183.5 739.4 183.8 740"/>
<path d="M563.6 733.6 C565.3 734 570.8 734.4 573.9 735.7 C577 737 580.4 739.6 582.1 741.3 C583.8 742.9 583.8 744.7 584.2 745.4"/>
<path d="M141.5 724.2 C140.6 726.2 137.7 731.3 135.8 735.8 C133.8 740.3 131 748.6 130 751.2"/>
<path d="M538.8 728.5 C537.8 730.5 534.7 736 532.6 740.8 C530.6 745.7 527.5 754.6 526.5 757.3"/>
<path d="M194.4 758.8 C193 760.1 188.8 763.3 185.8 766.5 C182.7 769.7 178.6 773.6 176.2 778.1 C173.8 782.6 172 789 171.3 793.5 C170.7 797.9 171.2 802.1 172.3 805 C173.4 807.9 177.1 809.8 178.1 810.8"/>
<path d="M595.5 765.6 C594 767 589.5 770.4 586.2 773.8 C583 777.3 578.5 781.4 575.9 786.2 C573.4 791 571.5 797.9 570.8 802.7 C570.1 807.5 570.6 812 571.8 815.1 C573 818.2 577 820.2 578 821.2"/>
<path d="M177.1 782.9 L191.5 792.5 L193.5 801.2"/>
<path d="M577 791.4 L592.4 801.7 L594.5 810.9"/>
<path d="M178.1 789.6 L191.5 798.3 L191.5 814.6"/>
<path d="M578 798.6 L592.4 807.8 L592.4 825.4"/>
<path d="M178.1 810.8 L191.5 815"/>
<path d="M578 821.2 L592.4 825.8"/>
<path d="M196.3 761.7 C197.9 762.9 205.8 765.4 206 768.5 C206.1 771.5 199.4 776.5 197.3 780 C195.2 783.5 194.4 787.4 193.5 789.6 C192.5 791.9 191.9 792.8 191.5 793.5"/>
<path d="M597.6 768.7 C599.3 769.9 607.7 772.6 607.9 775.9 C608.1 779.2 600.8 784.5 598.6 788.3 C596.4 792 595.5 796.2 594.5 798.6 C593.5 801 592.8 802 592.4 802.7"/>
<path d="M194.4 758.8 C196.5 759.8 203.6 762.8 206.9 764.6 C210.3 766.5 213.3 769.1 214.6 770"/>
<path d="M595.5 765.6 C597.8 766.6 605.3 769.8 608.9 771.8 C612.5 773.8 615.8 776.6 617.2 777.5"/>
<path d="M178.7 799.2 C178.3 797.7 179.1 795.8 180 795 C180.9 794.2 182.7 793.9 183.8 794.4 C185 795 186.7 796.8 187.1 798.3 C187.5 799.8 187.1 802.5 186.3 803.5 C185.5 804.4 183.6 804.7 182.3 804 C181 803.3 179 800.7 178.7 799.2Z"/>
<path d="M578.6 808.9 C578.2 807.3 579.1 805.2 580.1 804.3 C581 803.5 582.9 803.1 584.2 803.7 C585.5 804.3 587.2 806.2 587.7 807.8 C588.1 809.5 587.7 812.4 586.9 813.4 C586 814.4 583.9 814.8 582.5 814 C581.2 813.3 579 810.5 578.6 808.9Z"/>
<path d="M180.6 799.2 C180.4 798.4 181 797.3 181.5 796.9 C182.1 796.5 183.2 796.3 183.8 796.7 C184.5 797.1 185.3 798.4 185.4 799.2 C185.5 800.1 185.1 801.5 184.6 801.9 C184.1 802.4 183 802.4 182.3 801.9 C181.6 801.5 180.7 800.1 180.6 799.2Z"/>
<path d="M580.7 808.9 C580.5 808 581.1 806.8 581.7 806.4 C582.3 806 583.5 805.8 584.2 806.2 C584.9 806.6 585.7 807.9 585.8 808.9 C586 809.8 585.6 811.3 585 811.8 C584.5 812.2 583.3 812.2 582.5 811.8 C581.8 811.3 580.8 809.8 580.7 808.9Z"/>
<path d="M247.3 732.9 L268.5 745.4"/>
<path d="M652.2 737.8 L674.9 751.2"/>
<path d="M266.1 713 L279.2 709.7 L309.9 728.4"/>
<path d="M672.4 716.5 L686.4 712.9 L719.3 733"/>
<path d="M266.1 713 C264.3 714.1 258.7 716.6 255.3 719.2 C252 721.8 248.9 725.1 246.1 728.4 C243.3 731.7 240.7 735.3 238.4 739.2 C236.1 743 234.1 747.6 232.3 751.5 C230.5 755.3 228.7 759.7 227.7 762.2 C226.7 764.8 226.4 766.1 226.1 766.8"/>
<path d="M672.4 716.5 C670.4 717.6 664.4 720.3 660.8 723.1 C657.3 725.8 654 729.4 650.9 733 C647.9 736.5 645.2 740.4 642.7 744.5 C640.2 748.6 638 753.6 636.1 757.7 C634.2 761.8 632.3 766.5 631.2 769.2 C630.1 771.9 629.8 773.3 629.5 774.1"/>
<path d="M247.7 733.8 L269.2 745.3"/>
<path d="M652.6 738.7 L675.7 751.1"/>
<path d="M274.5 749.9 C274.3 751.5 274.4 754 273 759.1 C271.6 764.3 267.6 775.8 266.1 780.7 C264.6 785.5 264.2 787.1 263.8 788.3"/>
<path d="M681.4 756 C681.1 757.7 681.3 760.4 679.8 765.9 C678.3 771.4 674 783.7 672.4 789 C670.7 794.2 670.3 795.8 669.9 797.2"/>
<path d="M309.9 728.4 C307.7 729.4 300.8 732.1 296.8 734.6 C292.9 737 289.4 739.7 286.1 743 C282.7 746.3 279.7 750.1 276.9 754.5 C274 759 271.2 765 269.2 769.9 C267.1 774.8 265.5 780.1 264.6 783.7 C263.7 787.3 263.5 788.6 263.8 791.4 C264 794.2 264.9 797.6 266.1 800.6 C267.2 803.7 269.9 808.3 270.7 809.9"/>
<path d="M719.3 733 C717 734.1 709.6 736.9 705.3 739.5 C701 742.2 697.3 745 693.8 748.6 C690.2 752.2 686.9 756.2 683.9 761 C680.9 765.8 677.8 772.2 675.7 777.4 C673.5 782.7 671.7 788.4 670.7 792.3 C669.7 796.1 669.6 797.5 669.9 800.5 C670.2 803.5 671.1 807.1 672.4 810.4 C673.6 813.7 676.5 818.6 677.3 820.3"/>
<path d="M309.9 728.4 C311.3 729.4 315.4 732 318.3 734.6 C321.3 737.1 325.1 740.5 327.6 743.8 C330 747.1 331.8 750.7 332.9 754.5 C334.1 758.4 334.9 762.2 334.5 766.8 C334.1 771.4 332.6 777.3 330.6 782.2 C328.7 787.1 326 791.7 323 796 C319.9 800.4 315.8 805 312.2 808.3 C308.6 811.6 304.5 814.3 301.4 816 C298.4 817.7 296.1 818 293.8 818.3 C291.5 818.6 288.6 817.7 287.6 817.5"/>
<path d="M719.3 733 C720.8 734.1 725.2 736.8 728.4 739.5 C731.5 742.3 735.6 745.9 738.2 749.4 C740.9 753 742.8 756.8 744 761 C745.2 765.1 746.1 769.2 745.7 774.1 C745.2 779.1 743.6 785.4 741.5 790.6 C739.5 795.8 736.6 800.8 733.3 805.4 C730 810.1 725.6 815 721.8 818.6 C717.9 822.2 713.5 825.1 710.2 826.9 C706.9 828.6 704.5 829 702 829.3 C699.5 829.6 696.5 828.6 695.4 828.5"/>
<path d="M303.7 743.8 C305.4 743.1 310.8 740.3 313.7 739.9 C316.7 739.6 320.1 741.2 321.4 741.5"/>
<path d="M712.7 749.4 C714.5 748.7 720.3 745.7 723.4 745.3 C726.6 744.9 730.3 746.7 731.7 747"/>
<path d="M279.2 808.3 C278.8 807 277.1 804 276.9 800.6 C276.6 797.3 276.6 793 277.6 788.3 C278.6 783.7 280.6 777.8 283 773 C285.4 768.1 288.9 763 292.2 759.1 C295.5 755.3 299.6 752 303 749.9 C306.3 747.9 309.1 747 312.2 746.9 C315.3 746.7 318.9 747.6 321.4 749.2 C324 750.7 326.2 753.1 327.6 756.1 C329 759 329.9 762.7 329.9 766.8 C329.9 770.9 329.1 776 327.6 780.7 C326 785.3 323.5 790.1 320.6 794.5 C317.8 798.8 314.1 803.5 310.7 806.8 C307.2 810.1 303 812.9 299.9 814.5 C296.8 816 293.5 815.7 292.2 816"/>
<path d="M686.4 818.6 C685.9 817.2 684.2 813.9 683.9 810.4 C683.6 806.8 683.6 802.1 684.7 797.2 C685.8 792.3 687.9 785.9 690.5 780.7 C693.1 775.5 696.8 770 700.4 765.9 C703.9 761.8 708.3 758.2 711.9 756 C715.5 753.8 718.5 752.9 721.8 752.7 C725.1 752.6 728.9 753.6 731.7 755.2 C734.4 756.8 736.7 759.5 738.2 762.6 C739.8 765.8 740.7 769.7 740.7 774.1 C740.7 778.5 739.9 784 738.2 789 C736.6 793.9 733.9 799.1 730.8 803.8 C727.8 808.5 723.8 813.4 720.1 817 C716.4 820.5 711.9 823.6 708.6 825.2 C705.3 826.9 701.7 826.6 700.4 826.9"/>
<path d="M281.5 766.8 C280.6 768.9 277.5 774.8 276.1 779.1 C274.7 783.5 273.4 788.9 273 793 C272.6 797 273.7 801.9 273.8 803.7"/>
<path d="M688.8 774.1 C687.9 776.3 684.6 782.7 683.1 787.3 C681.6 792 680.2 797.8 679.8 802.1 C679.4 806.5 680.5 811.8 680.6 813.7"/>
<path d="M279.2 769.9 C278.3 772.2 275.1 779.1 273.8 783.7 C272.5 788.3 271.6 793.5 271.5 797.6 C271.3 801.7 272.8 806.5 273 808.3"/>
<path d="M686.4 777.4 C685.4 779.9 682 787.3 680.6 792.3 C679.2 797.2 678.3 802.7 678.1 807.1 C678 811.5 679.5 816.7 679.8 818.6"/>
<path d="M306 751.5 C305.9 753 306 757.1 305.3 760.7 C304.5 764.3 302.6 770.2 301.4 773 C300.3 775.8 298.9 776.8 298.4 777.6"/>
<path d="M715.2 757.7 C715 759.3 715.2 763.7 714.4 767.6 C713.5 771.4 711.5 777.7 710.2 780.7 C709 783.7 707.5 784.8 706.9 785.7"/>
<path d="M313.7 749.9 C313.7 752 314.5 757.6 313.7 762.2 C313 766.8 310.4 774.3 309.1 777.6 C307.8 780.9 306.6 781.4 306 782.2"/>
<path d="M723.4 756 C723.4 758.2 724.2 764.3 723.4 769.2 C722.6 774.1 719.9 782.1 718.5 785.7 C717.1 789.2 715.7 789.8 715.2 790.6"/>
<path d="M320.6 753 C320.8 755 321.8 761.2 321.4 765.3 C321 769.4 319.4 774.3 318.3 777.6 C317.3 780.9 315.8 784 315.3 785.3"/>
<path d="M730.8 759.3 C731 761.5 732.1 768.1 731.7 772.5 C731.2 776.9 729.5 782.1 728.4 785.7 C727.3 789.2 725.6 792.5 725.1 793.9"/>
<path d="M326 759.1 C326 761.2 326.5 767.6 326 771.4 C325.5 775.3 323.8 779.4 323 782.2 C322.1 785 321 787.3 320.6 788.3"/>
<path d="M736.6 765.9 C736.6 768.1 737.1 775 736.6 779.1 C736 783.2 734.3 787.6 733.3 790.6 C732.3 793.6 731.2 796.1 730.8 797.2"/>
<path d="M615.2 764.4 L632.5 776.9 L633.5 784.6"/>
<path d="M633.5 784.6 C631.9 785.1 626.7 786.5 623.8 787.5 C621 788.5 617.4 789.9 616.2 790.4"/>
<path d="M596 770.2 L610.4 776.9"/>
<path d="M614.2 774 C613.6 775.8 612 780.9 610.4 784.6 C608.8 788.3 605.6 794.2 604.6 796.2"/>
<path d="M594 803.8 C594.5 802.6 595.2 798.6 596.9 796.2 C598.7 793.8 603.3 790.5 604.6 789.4"/>
<path d="M593.1 825 L604.6 827.9"/>
<path d="M160.8 803.1 L178.1 810.8"/>
<path d="M559.4 813 L578 821.2"/>
</g>
<path d="M222.6 768.3 C220.7 769.1 214.4 771.2 210.9 773.2 C207.5 775.2 204.7 777.2 202 780.3 C199.3 783.5 196.5 787.9 194.8 792 C193.2 796 192.3 800.6 192.1 804.5 C192 808.4 193 812.7 193.9 815.3 C194.8 817.8 196.9 819 197.5 819.8" fill="none" stroke="#555" stroke-width="0.8"/>
<g transform="translate(244.0 811.2) rotate(26.0)">
<ellipse rx="16.2" ry="26.8" fill="#b4b4b4" stroke="#3a3a3a" stroke-width="1.1"/>
<ellipse rx="14.6" ry="24.1" fill="#7c7c7c" stroke="#333" stroke-width="1"/>
<line x1="5.7" y1="1.9" x2="14.3" y2="4.8" stroke="#2a2a2a" stroke-width="1.7"/>
<line x1="6.5" y1="5.4" x2="11.3" y2="9.3" stroke="#bdbdbd" stroke-width="1.2"/>
<line x1="4.4" y1="6.4" x2="10.9" y2="16.0" stroke="#2a2a2a" stroke-width="1.7"/>
<line x1="4.0" y1="10.1" x2="7.0" y2="17.4" stroke="#bdbdbd" stroke-width="1.2"/>
<line x1="1.9" y1="9.1" x2="4.6" y2="22.9" stroke="#2a2a2a" stroke-width="1.7"/>
<line x1="0.5" y1="12.0" x2="0.8" y2="20.9" stroke="#bdbdbd" stroke-width="1.2"/>
<line x1="-1.2" y1="9.5" x2="-2.9" y2="23.6" stroke="#2a2a2a" stroke-width="1.7"/>
<line x1="-3.2" y1="10.8" x2="-5.6" y2="18.7" stroke="#bdbdbd" stroke-width="1.2"/>
<line x1="-3.9" y1="7.2" x2="-9.7" y2="18.1" stroke="#2a2a2a" stroke-width="1.7"/>
<line x1="-6.1" y1="6.7" x2="-10.5" y2="11.6" stroke="#bdbdbd" stroke-width="1.2"/>
<line x1="-5.5" y1="3.1" x2="-13.8" y2="7.7" stroke="#2a2a2a" stroke-width="1.7"/>
<line x1="-7.3" y1="0.7" x2="-12.6" y2="1.3" stroke="#bdbdbd" stroke-width="1.2"/>
<line x1="-5.7" y1="-1.9" x2="-14.3" y2="-4.8" stroke="#2a2a2a" stroke-width="1.7"/>
<line x1="-6.5" y1="-5.4" x2="-11.3" y2="-9.3" stroke="#bdbdbd" stroke-width="1.2"/>
<line x1="-4.4" y1="-6.4" x2="-10.9" y2="-16.0" stroke="#2a2a2a" stroke-width="1.7"/>
<line x1="-4.0" y1="-10.1" x2="-7.0" y2="-17.4" stroke="#bdbdbd" stroke-width="1.2"/>
<line x1="-1.9" y1="-9.1" x2="-4.6" y2="-22.9" stroke="#2a2a2a" stroke-width="1.7"/>
<line x1="-0.5" y1="-12.0" x2="-0.8" y2="-20.9" stroke="#bdbdbd" stroke-width="1.2"/>
<line x1="1.2" y1="-9.5" x2="2.9" y2="-23.6" stroke="#2a2a2a" stroke-width="1.7"/>
<line x1="3.2" y1="-10.8" x2="5.6" y2="-18.7" stroke="#bdbdbd" stroke-width="1.2"/>
<line x1="3.9" y1="-7.2" x2="9.7" y2="-18.1" stroke="#2a2a2a" stroke-width="1.7"/>
<line x1="6.1" y1="-6.7" x2="10.5" y2="-11.6" stroke="#bdbdbd" stroke-width="1.2"/>
<line x1="5.5" y1="-3.1" x2="13.8" y2="-7.7" stroke="#2a2a2a" stroke-width="1.7"/>
<line x1="7.3" y1="-0.7" x2="12.6" y2="-1.3" stroke="#bdbdbd" stroke-width="1.2"/>
<ellipse rx="5.8" ry="9.6" fill="#b0b0b0" stroke="#3a3a3a" stroke-width="0.9"/>
</g>
<path d="M637.3 784 C635.5 784.6 630.2 785.9 627 787.8 C623.8 789.7 620.6 792.5 618 795.5 C615.5 798.5 613.4 802.1 611.6 805.7 C609.9 809.4 608.6 813.8 607.8 817.3 C607.1 820.7 607 823.7 607.2 826.2 C607.4 828.8 608.3 830.9 609.1 832.6 C609.8 834.3 611.2 835.8 611.6 836.5" fill="none" stroke="#666" stroke-width="0.8"/>
<ellipse cx="620.6" cy="831.3" rx="4.2" ry="5" transform="rotate(-30 620.6 831.3)" fill="#bdbdbd" stroke="#6a6a6a" stroke-width="1"/>
<g transform="translate(661.6 830.3) rotate(26.0)">
<ellipse rx="17.6" ry="30.2" fill="#b4b4b4" stroke="#3a3a3a" stroke-width="1.1"/>
<ellipse rx="15.8" ry="27.2" fill="#7c7c7c" stroke="#333" stroke-width="1"/>
<line x1="6.2" y1="2.2" x2="15.5" y2="5.4" stroke="#2a2a2a" stroke-width="1.7"/>
<line x1="7.2" y1="5.8" x2="12.4" y2="10.1" stroke="#bdbdbd" stroke-width="1.2"/>
<line x1="4.9" y1="6.9" x2="12.3" y2="17.2" stroke="#2a2a2a" stroke-width="1.7"/>
<line x1="4.8" y1="10.9" x2="8.3" y2="18.8" stroke="#bdbdbd" stroke-width="1.2"/>
<line x1="2.5" y1="10.0" x2="6.2" y2="25.0" stroke="#2a2a2a" stroke-width="1.7"/>
<line x1="1.3" y1="13.4" x2="2.2" y2="23.2" stroke="#bdbdbd" stroke-width="1.2"/>
<line x1="-0.5" y1="10.8" x2="-1.3" y2="27.1" stroke="#2a2a2a" stroke-width="1.7"/>
<line x1="-2.5" y1="12.9" x2="-4.3" y2="22.4" stroke="#bdbdbd" stroke-width="1.2"/>
<line x1="-3.4" y1="9.2" x2="-8.4" y2="23.0" stroke="#2a2a2a" stroke-width="1.7"/>
<line x1="-5.7" y1="9.4" x2="-9.9" y2="16.3" stroke="#bdbdbd" stroke-width="1.2"/>
<line x1="-5.5" y1="5.4" x2="-13.7" y2="13.6" stroke="#2a2a2a" stroke-width="1.7"/>
<line x1="-7.6" y1="3.8" x2="-13.2" y2="6.6" stroke="#bdbdbd" stroke-width="1.2"/>
<line x1="-6.3" y1="0.5" x2="-15.8" y2="1.1" stroke="#2a2a2a" stroke-width="1.7"/>
<line x1="-7.8" y1="-2.7" x2="-13.5" y2="-4.7" stroke="#bdbdbd" stroke-width="1.2"/>
<line x1="-5.7" y1="-4.6" x2="-14.3" y2="-11.6" stroke="#2a2a2a" stroke-width="1.7"/>
<line x1="-6.1" y1="-8.6" x2="-10.6" y2="-14.9" stroke="#bdbdbd" stroke-width="1.2"/>
<line x1="-3.8" y1="-8.7" x2="-9.5" y2="-21.7" stroke="#2a2a2a" stroke-width="1.7"/>
<line x1="-3.1" y1="-12.5" x2="-5.4" y2="-21.7" stroke="#bdbdbd" stroke-width="1.2"/>
<line x1="-1.0" y1="-10.7" x2="-2.6" y2="-26.8" stroke="#2a2a2a" stroke-width="1.7"/>
<line x1="0.6" y1="-13.5" x2="1.1" y2="-23.5" stroke="#bdbdbd" stroke-width="1.2"/>
<line x1="2.0" y1="-10.3" x2="5.0" y2="-25.8" stroke="#2a2a2a" stroke-width="1.7"/>
<line x1="4.2" y1="-11.5" x2="7.3" y2="-19.9" stroke="#bdbdbd" stroke-width="1.2"/>
<line x1="4.6" y1="-7.5" x2="11.4" y2="-18.9" stroke="#2a2a2a" stroke-width="1.7"/>
<line x1="6.9" y1="-6.8" x2="11.9" y2="-11.8" stroke="#bdbdbd" stroke-width="1.2"/>
<line x1="6.1" y1="-3.0" x2="15.2" y2="-7.6" stroke="#2a2a2a" stroke-width="1.7"/>
<line x1="7.9" y1="-0.6" x2="13.7" y2="-1.0" stroke="#bdbdbd" stroke-width="1.2"/>
<ellipse rx="6.3" ry="10.9" fill="#b0b0b0" stroke="#3a3a3a" stroke-width="0.9"/>
</g>
<path d="M295.7 786 L308.7 793.9 L296.7 817 L295.7 809.8 C294.8 810.4 292.4 811.9 290.6 813.4 C288.8 815 286.8 816.8 284.9 819.2 C282.9 821.6 280.5 825 279.1 827.9 C277.6 830.7 276.6 833.4 276.2 836.5 C275.8 839.6 276.2 843.7 276.9 846.6 C277.6 849.5 278.7 852.3 280.5 853.8 C282.3 855.4 285.6 855.8 287.7 856 C289.9 856.2 292.6 855.4 293.5 855.3 L293.5 871.9 C292.6 872.2 289.9 873.3 287.7 874 C285.6 874.8 282.9 876.2 280.5 876.2 C278.1 876.2 275.6 875.4 273.3 874 C271 872.7 268.6 870.7 266.8 868.3 C265 865.9 263.4 863.2 262.5 859.6 C261.5 856 260.8 851.2 261 846.6 C261.3 842 262.5 836.8 263.9 832.2 C265.4 827.6 267.4 823.3 269.7 819.2 C272 815.1 274.6 811.4 277.6 807.6 C280.6 803.9 284.6 799.5 287.7 796.8 C290.9 794.1 295.2 792.4 296.7 791.5 Z" fill="#1c1a1b"/>
<path d="M243.7 812.7 L253.8 817.7" stroke="#1c1a1b" stroke-width="1.7" fill="none"/>
<path d="M297.9 843.7 L307.2 848.8" stroke="#1c1a1b" stroke-width="1.7" fill="none"/>
<circle cx="263.2" cy="823.5" r="1.5" fill="#1c1a1b"/>
<circle cx="280.5" cy="834.3" r="1.5" fill="#1c1a1b"/>
<circle cx="290.6" cy="839.1" r="1.5" fill="#1c1a1b"/>
<path d="M696.1 842.2 L683 833.8 L696.1 810.7 L697.6 816.1 C698.8 815.5 701.8 813.2 704.5 812.3 C707.2 811.3 710.7 810.4 713.8 810.4 C716.8 810.4 720.2 810.9 723 812.3 C725.8 813.6 728.7 815.6 730.7 818.4 C732.6 821.2 733.7 825.3 734.5 829.2 C735.3 833 735.7 837.1 735.3 841.5 C734.9 845.8 733.7 850.7 732.2 855.3 C730.7 859.9 728.6 864.5 726 869.1 C723.5 873.8 719.9 878.9 716.8 883.3 C713.8 887.6 709.9 892.4 707.6 895.2 C705.4 898.1 704 899.6 703.3 900.5 L699.2 900.5 L699.2 879.9 C700.3 879.1 703.6 877.6 706.1 875.3 C708.5 873 711.6 869.4 713.8 866 C715.9 862.7 718 858.9 719.1 855.3 C720.3 851.7 720.9 847.6 720.7 844.5 C720.4 841.5 719.3 838.6 717.6 836.9 C715.9 835.1 713.4 834 710.7 833.8 C708 833.5 703.6 834.9 701.5 835.3 C699.3 835.8 698.3 836.3 697.6 836.5 Z" fill="#1c1a1b"/>
<path d="M663 831.5 L668.4 834.5" stroke="#1c1a1b" stroke-width="1.7" fill="none"/>
<path d="M678.4 839.9 L685.3 844.5" stroke="#1c1a1b" stroke-width="1.7" fill="none"/>
<path d="M698.4 852.2 L704.5 855.6" stroke="#1c1a1b" stroke-width="1.7" fill="none"/>
<path d="M726 867.9 L729.9 869.9" stroke="#1c1a1b" stroke-width="1.7" fill="none"/>
<path d="M723.9 371.7 C724.5 373.1 726.1 376.8 727.2 380 C728.3 383.2 729.8 387.4 730.6 391.1 C731.4 394.8 731.8 398.5 732 402.2 C732.2 405.9 732.1 409.6 731.7 413.3 C731.3 417 730.6 420.7 729.8 424.4 C729 428.1 728 431.9 726.7 435.6 C725.4 439.3 723.9 443 722.2 446.7 C720.5 450.4 718.6 454.1 716.7 457.8 C714.8 461.5 712.7 465.2 710.6 468.9 C708.5 472.6 706.2 476.9 703.9 480 C701.6 483.1 700.1 484.4 696.8 487.7 C693.5 491 688.3 496.1 684 499.8 C679.7 503.5 675.5 506.9 671.2 510.1 C666.9 513.3 662.7 516.3 658.4 519.1 C654.1 521.9 649.9 524.5 645.6 526.7 C641.3 528.9 636.3 531.2 632.8 532.5 C629.3 533.8 628.3 533.6 624.4 534.7 C620.5 535.8 614.2 538 609.1 539.2 C604 540.4 598.8 541.2 593.7 541.8 C588.6 542.4 583.4 543 578.3 543 C573.2 543 568.1 542.5 563 541.8 C557.9 541.1 552.4 540 547.6 538.6 C542.8 537.2 538.7 535.6 534.2 533.4 C529.7 531.1 524.9 528.1 520.7 525.1 C516.5 522.1 512.7 518.9 509.2 515.5 C505.7 512.1 501.2 506.8 499.6 505" fill="none" stroke="#1c1a1b" stroke-width="4.4"/>
<path d="M703.7 339.8 L735.6 370 L724.5 372.5 L716.1 382.2Z" fill="#1c1a1b"/>
<path d="M480.2 472.8 L511.9 502.5 L500 506 L492.3 514.7Z" fill="#1c1a1b"/>
<rect x="0" y="578.8" width="781" height="3.6" fill="#111"/>
<rect x="362.9" y="593" width="3.6" height="307" fill="#111"/>
<g font-family="'Liberation Sans', sans-serif" fill="#111" opacity="0.99">
<text x="0" y="0" font-size="53.5" stroke="#111" stroke-width="0.4" transform="translate(7.8 45.5) scale(0.835 1)">A</text>
<text x="0" y="0" font-size="55" stroke="#111" stroke-width="0.4" transform="translate(9.4 632.2) scale(0.815 1)">B</text>
<text x="0" y="0" font-size="53.5" stroke="#111" stroke-width="0.4" transform="translate(416.2 632.2) scale(0.835 1)">C</text>
<text x="183.5" y="553.8" font-size="15" textLength="52" lengthAdjust="spacingAndGlyphs" fill="#222">ti2505a</text>
<text x="655.5" y="556" font-size="36" fill="#222">180<tspan font-size="40">º</tspan></text>
</g>
<rect x="657" y="552.4" width="6.9" height="4" fill="#fff"/>
<rect x="668.1" y="552.4" width="6.5" height="4" fill="#fff"/>
</svg>
</body>
</html>
